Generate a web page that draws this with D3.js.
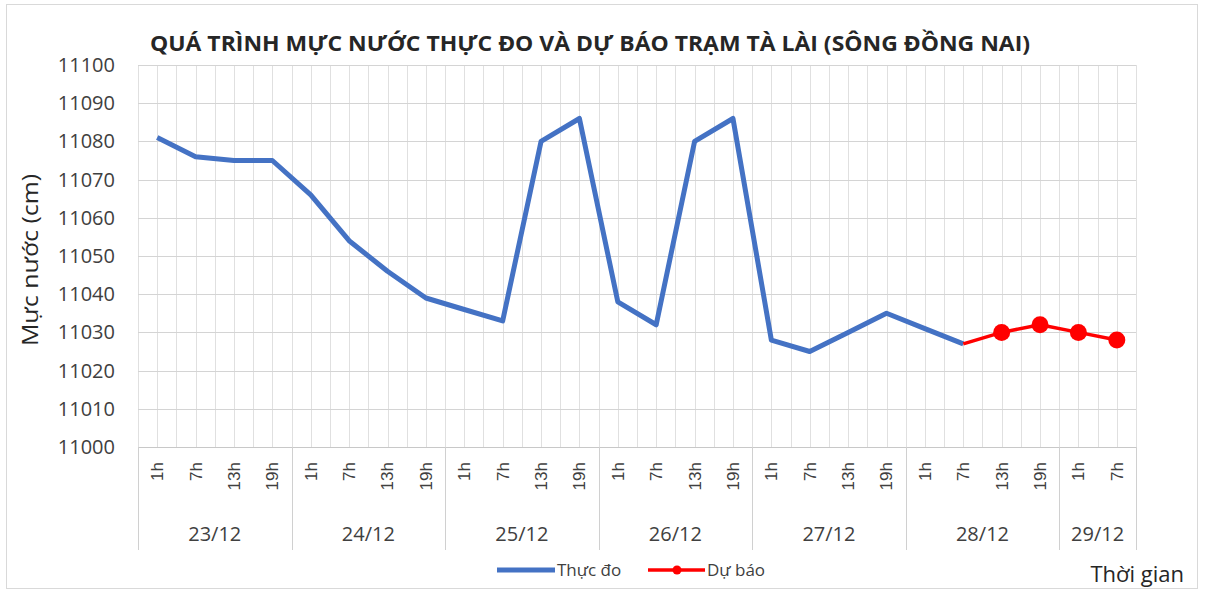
<!DOCTYPE html>
<html><head><meta charset="utf-8">
<script src="https://cdn.jsdelivr.net/npm/d3@7"></script>
<style>
body{margin:0;background:#fff;}
svg{display:block;font-family:"Open Sans","Noto Sans",sans-serif;}
</style></head>
<body><svg id="c" width="1206" height="590"></svg>
<script>
const days = ["23/12","24/12","25/12","26/12","27/12","28/12","29/12"];
const hoursPerDay = [["1h","7h","13h","19h"],["1h","7h","13h","19h"],["1h","7h","13h","19h"],["1h","7h","13h","19h"],["1h","7h","13h","19h"],["1h","7h","13h","19h"],["1h","7h"]];
const observed = [11081,11076,11075,11075, 11066,11054,11046,11039, 11036,11033,11080,11086, 11038,11032,11080,11086, 11028,11025,11030,11035, 11031,11027,null,null, null,null];
const forecast = [null,null,null,null, null,null,null,null, null,null,null,null, null,null,null,null, null,null,null,null, null,11027,11030,11032, 11030,11028];
const yTicks = [11000,11010,11020,11030,11040,11050,11060,11070,11080,11090,11100];
const title = "QUÁ TRÌNH MỰC NƯỚC THỰC ĐO VÀ DỰ BÁO TRẠM TÀ LÀI (SÔNG ĐỒNG NAI)";
const yTitle = "Mực nước (cm)";
const xTitle = "Thời gian";
const seriesNames = ["Thực đo","Dự báo"];

const cats = [];
days.forEach((d,i)=>hoursPerDay[i].forEach(h=>cats.push({key:d+" "+h,day:d,hour:h})));

const svg = d3.select("#c");
const L=138, R=1136, T=65, B=447;
const x = d3.scaleBand().domain(cats.map(c=>c.key)).range([L,R]).padding(0);
const y = d3.scaleLinear().domain([11000,11100]).range([B,T]);

// outer border
svg.append("rect").attr("x",6.5).attr("y",4.5).attr("width",1191).attr("height",584).attr("fill","none").attr("stroke","#d9d9d9");

// vertical gridlines: boundaries and centers
const g = svg.append("g");
const bw = x.bandwidth();
cats.forEach((c,i)=>{
  const x0 = x(c.key);
  [x0, x0+bw/2].forEach(xx=>{
    g.append("line").attr("x1",Math.round(xx)+0.5).attr("x2",Math.round(xx)+0.5).attr("y1",T).attr("y2",B).attr("stroke","#e0e0e0").attr("stroke-width",1);
  });
});
g.append("line").attr("x1",R+0.5).attr("x2",R+0.5).attr("y1",T).attr("y2",B).attr("stroke","#e0e0e0");
// horizontal gridlines
yTicks.forEach(t=>{
  g.append("line").attr("x1",L).attr("x2",R).attr("y1",Math.round(y(t))+0.5).attr("y2",Math.round(y(t))+0.5).attr("stroke","#d4d4d4").attr("stroke-width",1);
});

// y axis labels
const ya = d3.axisLeft(y).tickValues(yTicks).tickSize(0).tickPadding(23).tickFormat(d3.format("d"));
const yg = svg.append("g").attr("transform",`translate(${L},0)`).call(ya);
yg.select(".domain").remove();
yg.selectAll("text").attr("font-size",20).attr("fill","#404040").attr("font-family","'Open Sans',sans-serif");

// x axis
const xa = d3.axisBottom(x).tickSize(0).tickFormat(k=>k.split(" ")[1]);
const xg = svg.append("g").attr("transform",`translate(0,${B})`).call(xa);
xg.select(".domain").attr("stroke","#c8c8c8");
xg.selectAll("text").attr("font-size",17).attr("fill","#404040")
  .attr("transform","rotate(-90)").attr("text-anchor","end").attr("dy","0.35em").attr("x",-15).attr("y",0);

// day separators and labels
let idx=0;
const sep = svg.append("g");
days.forEach((d,i)=>{
  const first = cats[idx].key;
  const n = hoursPerDay[i].length;
  const last = cats[idx+n-1].key;
  const x0 = x(first), x1 = x(last)+bw;
  sep.append("line").attr("x1",Math.round(x0)+0.5).attr("x2",Math.round(x0)+0.5).attr("y1",B).attr("y2",550).attr("stroke","#d0d0d0");
  sep.append("text").attr("x",(x0+x1)/2).attr("y",541).attr("text-anchor","middle").attr("font-size",20).attr("fill","#404040").text(d);
  idx+=n;
});
sep.append("line").attr("x1",R+0.5).attr("x2",R+0.5).attr("y1",B).attr("y2",550).attr("stroke","#d0d0d0");

// lines
const line = d3.line().defined(d=>d.v!=null).x(d=>x(d.k)+bw/2).y(d=>y(d.v));
const obsData = cats.map((c,i)=>({k:c.key,v:observed[i]}));
const fcData = cats.map((c,i)=>({k:c.key,v:forecast[i]}));
svg.append("path").datum(obsData).attr("d",line).attr("fill","none").attr("stroke","#4472c4").attr("stroke-width",5).attr("stroke-linejoin","round");
svg.append("path").datum(fcData).attr("d",line).attr("fill","none").attr("stroke","#ff0000").attr("stroke-width",3.5).attr("stroke-linejoin","round");
svg.append("g").selectAll("circle").data(fcData.filter((d,i)=>d.v!=null && i>21)).join("circle")
  .attr("cx",d=>x(d.k)+bw/2).attr("cy",d=>y(d.v)).attr("r",8.5).attr("fill","#ff0000");

// title
svg.append("text").attr("x",150).attr("y",51).attr("font-size",21).attr("font-weight","bold").attr("fill","#262626")
  .attr("textLength",880).attr("lengthAdjust","spacingAndGlyphs").text(title);
// y title
svg.append("text").attr("transform","translate(38,260) rotate(-90)").attr("text-anchor","middle").attr("font-size",22).attr("fill","#262626")
  .attr("textLength",172).attr("lengthAdjust","spacingAndGlyphs").text(yTitle);
// x title
svg.append("text").attr("x",1184).attr("y",582).attr("text-anchor","end").attr("font-size",22).attr("fill","#262626").text(xTitle);

// legend
const lg = svg.append("g");
lg.append("line").attr("x1",497).attr("x2",555).attr("y1",570).attr("y2",570).attr("stroke","#4472c4").attr("stroke-width",5);
lg.append("text").attr("x",557).attr("y",576).attr("font-size",17).attr("fill","#404040").text(seriesNames[0]);
lg.append("line").attr("x1",648).attr("x2",705).attr("y1",570).attr("y2",570).attr("stroke","#ff0000").attr("stroke-width",3.5);
lg.append("circle").attr("cx",677).attr("cy",570).attr("r",4.5).attr("fill","#ff0000");
lg.append("text").attr("x",707).attr("y",576).attr("font-size",17).attr("fill","#404040").text(seriesNames[1]);
</script></body></html>
